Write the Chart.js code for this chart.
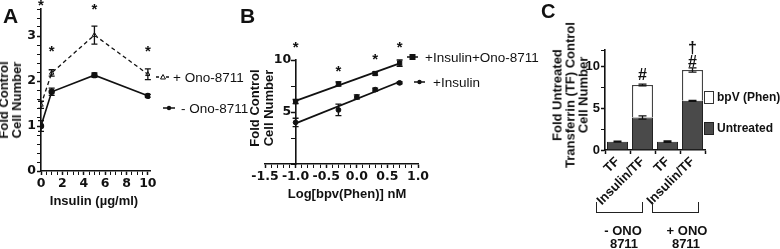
<!DOCTYPE html>
<html>
<head>
<meta charset="utf-8">
<script src="https://cdn.jsdelivr.net/npm/chart.js@4.4.1/dist/chart.umd.min.js"></script>
<style>
  body { margin: 0; background: #fff; }
  #wrap { position: relative; width: 780px; height: 249px; overflow: hidden; font-family: 'Liberation Sans', Arial, sans-serif; color: #111; }
  #wrap canvas { position: absolute; left: 0; top: 0; }
  .t { position: absolute; white-space: nowrap; }
  .b { font-weight: bold; }
  .rot { transform: translate(-50%, -50%) rotate(-90deg); text-align: center; font-weight: bold; font-size: 13px; }
  .mid { transform: translate(-50%, -50%); text-align: center; }
  .lv { transform: translateY(-50%); }
  .brk { position: absolute; border: 1px solid #222; border-top: none; height: 10px; }
</style>
</head>
<body>
<div id="wrap">
  <canvas id="chartA" width="780" height="249"></canvas>
  <canvas id="chartB" width="780" height="249"></canvas>
  <canvas id="chartC" width="780" height="249"></canvas>

  <div class="t b" style="left:3px;top:4px;font-size:21px;">A</div>
  <div class="t b" style="left:240px;top:4px;font-size:21px;">B</div>
  <div class="t b" style="left:541px;top:0px;font-size:20px;">C</div>

  <div class="t rot" style="left:10px;top:100px;line-height:13px;">Fold Control<br>Cell Number</div>
  <div class="t b mid" style="left:94px;top:200px;font-size:13px;">Insulin (µg/ml)</div>

  <div class="t rot" style="left:262px;top:108px;line-height:14px;">Fold Control<br>Cell Number</div>
  <div class="t b mid" style="left:347px;top:193px;font-size:13px;">Log[bpv(Phen)] nM</div>

  <div class="t rot" style="left:570px;top:95px;line-height:13px;">Fold Untreated<br>Transferrin (TF) Control<br>Cell Number</div>

  <!-- legend A -->
  <svg class="t" style="left:155px;top:71px;" width="16" height="12"><line x1="1" y1="6" x2="15" y2="6" stroke="#111" stroke-width="1.3" stroke-dasharray="3,2"/><path d="M8 3.5 L10.5 8 L5.5 8 Z" fill="#fff" stroke="#111" stroke-width="1"/></svg>
  <div class="t lv" style="left:173px;top:77px;font-size:13.5px;">+ Ono-8711</div>
  <svg class="t" style="left:162px;top:102px;" width="14" height="12"><line x1="1" y1="6" x2="13" y2="6" stroke="#111" stroke-width="1.5"/><circle cx="7" cy="6" r="2.2" fill="#111"/></svg>
  <div class="t lv" style="left:181px;top:108px;font-size:13.5px;">- Ono-8711</div>

  <!-- legend B -->
  <svg class="t" style="left:406px;top:51px;" width="13" height="12"><line x1="1" y1="6" x2="12" y2="6" stroke="#111" stroke-width="1.5"/><rect x="3.5" y="3" width="6" height="6" fill="#111"/></svg>
  <div class="t lv" style="left:425px;top:57px;font-size:13.5px;">+Insulin+Ono-8711</div>
  <svg class="t" style="left:413px;top:76px;" width="13" height="12"><line x1="1" y1="6" x2="12" y2="6" stroke="#111" stroke-width="1.5"/><circle cx="6.5" cy="6" r="2.2" fill="#111"/></svg>
  <div class="t lv" style="left:433px;top:82px;font-size:13.5px;">+Insulin</div>

  <!-- legend C -->
  <div class="t" style="left:704px;top:91px;width:8px;height:11px;border:1px solid #333;background:#fff;"></div>
  <div class="t b lv" style="left:717px;top:97px;font-size:12px;">bpV (Phen)</div>
  <div class="t" style="left:704px;top:122px;width:8px;height:11px;border:1px solid #222;background:#4a4a4a;"></div>
  <div class="t b lv" style="left:717px;top:128px;font-size:12px;">Untreated</div>

  <!-- groups under C -->
  <div class="brk" style="left:596px;top:202px;width:45px;"></div>
  <div class="brk" style="left:652px;top:202px;width:45px;"></div>
  <div class="t b mid" style="left:623px;top:230px;font-size:13px;">- ONO</div>
  <div class="t b mid" style="left:624px;top:243px;font-size:13px;">8711</div>
  <div class="t b mid" style="left:687px;top:230px;font-size:13px;">+ ONO</div>
  <div class="t b mid" style="left:686px;top:243px;font-size:13px;">8711</div>
</div>

<script>
// ---- panel A: insulin dose response
const insulinDose = [0, 1, 5, 10];
const withOno = [1.47, 2.18, 3.02, 2.15];
const withOnoErr = [0.08, 0.07, 0.2, 0.12];
const withoutOno = [1.0, 1.76, 2.13, 1.67];
const withoutOnoErr = [0.12, 0.08, 0.05, 0.03];
const starsA = [3.68, 2.65, 3.58, 2.65];
const ticksAx = [0, 0.5, 1, 1.5, 2, 2.5, 3, 3.5, 4, 4.5, 5, 5.5, 6, 6.5, 7, 7.5, 8, 8.5, 9, 9.5, 10];
const labelsAx = [0, 2, 4, 6, 8, 10];
const ticksAy = [0, 0.2, 0.4, 0.6, 0.8, 1, 1.2, 1.4, 1.6, 1.8, 2, 2.2, 2.4, 2.6, 2.8, 3, 3.2, 3.4, 3.6];
const labelsAy = [0, 1, 2, 3];

// ---- panel B: bpV(Phen) dose response
const logBpvOno = [-1, -0.3, 0.3, 0.7];
const insOno = [6.0, 7.7, 8.7, 9.7];
const insOnoErr = [0.2, 0.2, 0.15, 0.3];
const logBpvIns = [-1, -0.3, 0, 0.3, 0.7];
const insOnly = [4.0, 5.2, 6.45, 7.15, 7.8];
const insOnlyErr = [0.4, 0.55, 0.2, 0.15, 0.1];
const starsB = [11.2, 8.9, 10.0, 11.2];
const ticksBx = [-1.5, -1.4, -1.3, -1.2, -1.1, -1.0, -0.9, -0.8, -0.7, -0.6, -0.5, -0.4, -0.3, -0.2, -0.1,
  0.0, 0.1, 0.2, 0.3, 0.4, 0.5, 0.6, 0.7, 0.8, 0.9, 1.0];
const labelsBx = [-1.5, -1.0, -0.5, 0.0, 0.5, 1.0];
const ticksBy = [0, 2.5, 5, 7.5, 10];
const labelsBy = [5, 10];

// ---- panel C: stacked bars
const groupsC = ['TF', 'Insulin/TF', 'TF', 'Insulin/TF'];
const untreated = [1.0, 3.9, 1.0, 5.9];
const untreatedErr = [0.06, 0.2, 0.08, 0.05];
const bpvPhen = [0, 3.9, 0, 3.7];
const bpvPhenErr = [0, 0.1, 0, 0.25];
const marksC = [[1, 8.95, '#'], [3, 10.5, '#'], [3, 12.2, '†']];
const ticksCy = [0, 2.5, 5, 7.5, 10, 12];
const labelsCy = [0, 5, 10];

Chart.defaults.font.family = "'Liberation Sans', Arial, sans-serif";
Chart.defaults.color = '#111';

// least squares line through the points, evaluated at the ends
function fitLine(xs, ys) {
  const n = xs.length;
  const mx = xs.reduce((a, b) => a + b, 0) / n;
  const my = ys.reduce((a, b) => a + b, 0) / n;
  let sxy = 0, sxx = 0;
  xs.forEach((x, i) => { sxy += (x - mx) * (ys[i] - my); sxx += (x - mx) * (x - mx); });
  const k = sxy / sxx;
  const x0 = Math.min(...xs), x1 = Math.max(...xs);
  return [{ x: x0, y: my + k * (x0 - mx) }, { x: x1, y: my + k * (x1 - mx) }];
}

const isLabel = (labels, v) => labels.some(l => Math.abs(l - v) < 1e-6);

// error bars + text marks (asterisks etc.)
const extras = {
  id: 'extras',
  afterDatasetsDraw(chart, args, opts) {
    const ctx = chart.ctx;
    ctx.save();
    ctx.strokeStyle = '#111';
    ctx.lineWidth = 1.3;
    chart.data.datasets.forEach((ds, i) => {
      if (!ds.errors) return;
      const meta = chart.getDatasetMeta(i);
      const ys = chart.scales[meta.yAxisID];
      const cap = opts.cap || 3;
      meta.data.forEach((el, j) => {
        const e = ds.errors[j];
        if (!e) return;
        const d = Math.abs(ys.getPixelForValue(0) - ys.getPixelForValue(e));
        const x = el.x, y = el.y;
        ctx.beginPath();
        ctx.moveTo(x, y - d); ctx.lineTo(x, y + d);
        ctx.moveTo(x - cap, y - d); ctx.lineTo(x + cap, y - d);
        ctx.moveTo(x - cap, y + d); ctx.lineTo(x + cap, y + d);
        ctx.stroke();
      });
    });
    const xs = chart.scales.x, ys = chart.scales.y;
    ctx.fillStyle = '#111';
    ctx.textAlign = 'center';
    ctx.textBaseline = 'middle';
    (opts.marks || []).forEach(m => {
      ctx.font = m[3] || "bold 15px 'Liberation Sans', Arial";
      ctx.fillText(m[2], xs.getPixelForValue(m[0]), ys.getPixelForValue(m[1]));
    });
    ctx.restore();
  }
};

const numFont = { family: "'DejaVu Sans', sans-serif", size: 12.5, weight: 'bold' };
const textFont = { size: 13, weight: 'bold' };

function axis(list, labels, fmt, size, font, extra) {
  return Object.assign({
    grid: {
      drawOnChartArea: false, drawTicks: true, tickLength: 4, tickColor: '#111',
      tickWidth: c => (labels && c.tick && !isLabel(labels, c.tick.value) ? 1 : 1.5)
    },
    border: { color: '#111', width: 1.6 },
    ticks: { color: '#111', font: font, padding: 1, autoSkip: false, maxRotation: 0,
      callback: function (v) { return labels && !isLabel(labels, v) ? '' : fmt.call(this, v); } },
    afterBuildTicks: list ? (s => { s.ticks = list.map(v => ({ value: v })); }) : undefined,
    afterFit: s => {
      if (s.isHorizontal()) { s.height = size; s.paddingLeft = 0; s.paddingRight = 0; }
      else { s.width = size; s.paddingTop = 0; s.paddingBottom = 0; }
    }
  }, extra);
}

const base = {
  responsive: false,
  animation: false,
  events: [],
  plugins: { legend: { display: false }, tooltip: { enabled: false } }
};

// A
new Chart(document.getElementById('chartA'), {
  type: 'line',
  data: {
    datasets: [
      { data: insulinDose.map((x, i) => ({ x, y: withOno[i] })), errors: withOnoErr,
        borderColor: '#111', borderWidth: 1.3, borderDash: [4, 3], pointStyle: 'triangle',
        pointRadius: 2.6, pointBackgroundColor: '#fff', pointBorderColor: '#111', pointBorderWidth: 1 },
      { data: insulinDose.map((x, i) => ({ x, y: withoutOno[i] })), errors: withoutOnoErr,
        borderColor: '#111', borderWidth: 1.6, pointRadius: 2.4, pointBackgroundColor: '#111', pointBorderColor: '#111' }
    ]
  },
  options: Object.assign({}, base, {
    layout: { padding: { left: 0, right: 630, top: 9, bottom: 56 } },
    plugins: Object.assign({}, base.plugins, { extras: { cap: 3, marks: insulinDose.map((x, i) => [x, starsA[i], '*']) } }),
    scales: {
      x: axis(ticksAx, labelsAx, v => v, 22, numFont, { type: 'linear', min: 0, max: 10.2 }),
      y: axis(ticksAy, labelsAy, v => v, 41, numFont, { min: 0, max: 3.6 })
    }
  }),
  plugins: [extras]
});

// B
const fitOno = fitLine(logBpvOno, insOno);
const fitIns = fitLine(logBpvIns, insOnly);
new Chart(document.getElementById('chartB'), {
  type: 'scatter',
  data: {
    datasets: [
      { data: logBpvOno.map((x, i) => ({ x, y: insOno[i] })), errors: insOnoErr,
        pointStyle: 'rect', pointRadius: 3, backgroundColor: '#111', borderColor: '#111' },
      { data: logBpvIns.map((x, i) => ({ x, y: insOnly[i] })), errors: insOnlyErr,
        pointStyle: 'circle', pointRadius: 2.4, backgroundColor: '#111', borderColor: '#111' },
      { type: 'line', data: fitOno, borderColor: '#111', borderWidth: 1.8, pointRadius: 0 },
      { type: 'line', data: fitIns, borderColor: '#111', borderWidth: 1.8, pointRadius: 0 }
    ]
  },
  options: Object.assign({}, base, {
    layout: { padding: { left: 265, right: 362, top: 60, bottom: 63 } },
    plugins: Object.assign({}, base.plugins, { extras: { cap: 3, marks: logBpvOno.map((x, i) => [x, starsB[i], '*']) } }),
    scales: {
      x: axis(ticksBx, labelsBx, v => v.toFixed(1), 22, numFont, { type: 'linear', min: -1.5, max: 1.0 }),
      // axis sits at x = -1; trailing space keeps the labels off the axis line
      y: axis(ticksBy, labelsBy, v => v + ' ', 0, numFont, { min: 0, max: 10, position: { x: -1 } })
    }
  }),
  plugins: [extras]
});

// C
new Chart(document.getElementById('chartC'), {
  type: 'bar',
  data: {
    labels: groupsC,
    datasets: [
      { label: 'Untreated', data: untreated, errors: untreatedErr, backgroundColor: '#4a4a4a',
        borderColor: '#222', borderWidth: 1, barPercentage: 0.84, categoryPercentage: 1 },
      { label: 'bpV (Phen)', data: bpvPhen, errors: bpvPhenErr, backgroundColor: '#fff',
        borderColor: '#444', borderWidth: 1.3, barPercentage: 0.84, categoryPercentage: 1 }
    ]
  },
  options: Object.assign({}, base, {
    layout: { padding: { left: 565, right: 75, top: 50, bottom: 37.5 } },
    plugins: Object.assign({}, base.plugins, { extras: { cap: 4, marks: marksC.map(m => [m[0], m[1], m[2], "bold 16px 'Liberation Sans', Arial"]) } }),
    scales: {
      x: axis(null, null, function (v) { return this.getLabelForValue(v); }, 61.5, textFont, { stacked: true }),
      y: axis(ticksCy, labelsCy, v => v, 40, textFont, { stacked: true, min: 0, max: 12 })
    }
  }),
  plugins: [extras]
});
// rotated category labels in C
const cx = Chart.getChart('chartC');
cx.options.scales.x.ticks.minRotation = 45;
cx.options.scales.x.ticks.maxRotation = 45;
cx.options.scales.x.ticks.padding = 0;
cx.update();
</script>
</body>
</html>
